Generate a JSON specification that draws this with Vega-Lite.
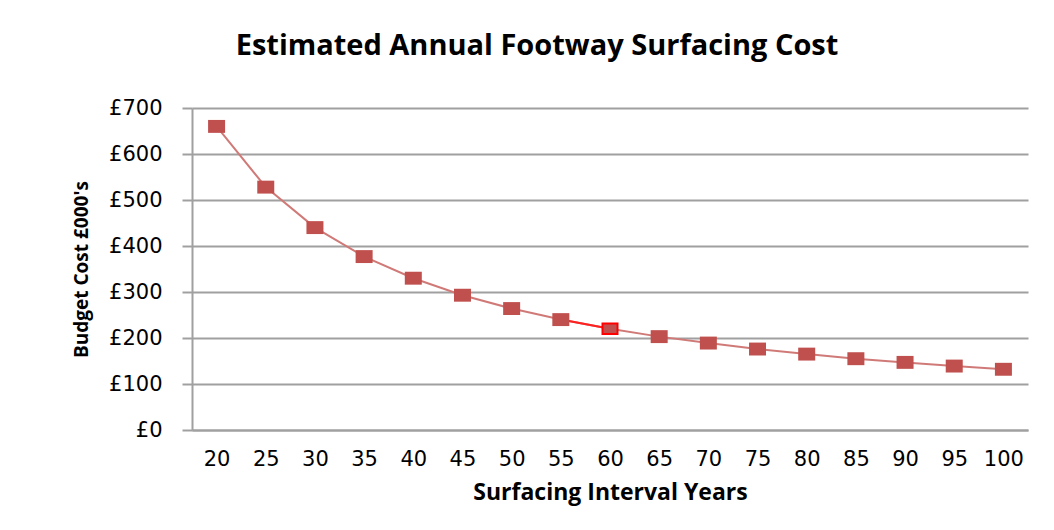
{
  "$schema": "https://vega.github.io/schema/vega-lite/v6.json",
  "width": 836,
  "height": 322,
  "autosize": {"type": "none"},
  "padding": {"left": 192, "top": 108, "right": 26, "bottom": 100},
  "background": "white",
  "title": {
    "text": "Estimated Annual Footway Surfacing Cost",
    "font": "Open Sans",
    "fontSize": 29,
    "fontWeight": "bold",
    "color": "#000000",
    "anchor": "middle",
    "frame": "group",
    "dx": -73,
    "offset": 36
  },
  "config": {
    "view": {"stroke": null},
    "axis": {
      "domainColor": "#a0a0a0",
      "gridColor": "#a0a0a0",
      "tickColor": "#a0a0a0",
      "domainWidth": 2,
      "gridWidth": 2,
      "tickWidth": 2
    }
  },
  "data": {
    "values": [
      {"years": 20, "cost": 660},
      {"years": 25, "cost": 528},
      {"years": 30, "cost": 440},
      {"years": 35, "cost": 377},
      {"years": 40, "cost": 330},
      {"years": 45, "cost": 293},
      {"years": 50, "cost": 264},
      {"years": 55, "cost": 240},
      {"years": 60, "cost": 220},
      {"years": 65, "cost": 203},
      {"years": 70, "cost": 189},
      {"years": 75, "cost": 176},
      {"years": 80, "cost": 165},
      {"years": 85, "cost": 155},
      {"years": 90, "cost": 147},
      {"years": 95, "cost": 139},
      {"years": 100, "cost": 132}
    ]
  },
  "encoding": {
    "x": {
      "field": "years",
      "type": "ordinal",
      "sort": null,
      "scale": {"paddingInner": 0, "paddingOuter": 0},
      "axis": {
        "title": "Surfacing Interval Years",
        "titleFont": "Open Sans",
        "titleFontSize": 23,
        "titleFontWeight": "bold",
        "titleColor": "#000000",
        "titlePadding": 12,
        "labelFont": "DejaVu Sans",
        "labelFontSize": 21,
        "labelColor": "#000000",
        "labelAngle": 0,
        "labelPadding": 18,
        "ticks": false,
        "grid": false
      }
    },
    "y": {
      "field": "cost",
      "type": "quantitative",
      "scale": {"domain": [0, 700], "nice": false},
      "axis": {
        "title": "Budget Cost £000's",
        "titleFont": "Open Sans",
        "titleFontSize": 19,
        "titleFontWeight": "bold",
        "titleColor": "#000000",
        "titlePadding": 17,
        "values": [0, 100, 200, 300, 400, 500, 600, 700],
        "labelExpr": "'£' + datum.value",
        "labelFont": "DejaVu Sans",
        "labelFontSize": 21,
        "labelColor": "#000000",
        "labelPadding": 20,
        "tickSize": 10,
        "grid": true
      }
    }
  },
  "layer": [
    {
      "mark": {"type": "line", "color": "#d07a78", "strokeWidth": 2}
    },
    {
      "transform": [{"filter": "datum.years >= 55 && datum.years <= 60"}],
      "mark": {"type": "line", "color": "#ff2020", "strokeWidth": 2}
    },
    {
      "transform": [{"filter": "datum.years != 60"}],
      "mark": {
        "type": "point",
        "shape": "M-1,-0.76H1V0.76H-1Z",
        "size": 289,
        "filled": true,
        "color": "#c0504d",
        "opacity": 1
      }
    },
    {
      "transform": [{"filter": "datum.years == 60"}],
      "mark": {
        "type": "point",
        "shape": "M-1,-0.7H1V0.7H-1Z",
        "size": 225,
        "filled": true,
        "fill": "#c0504d",
        "stroke": "#ff0000",
        "strokeWidth": 2,
        "opacity": 1
      }
    }
  ]
}
